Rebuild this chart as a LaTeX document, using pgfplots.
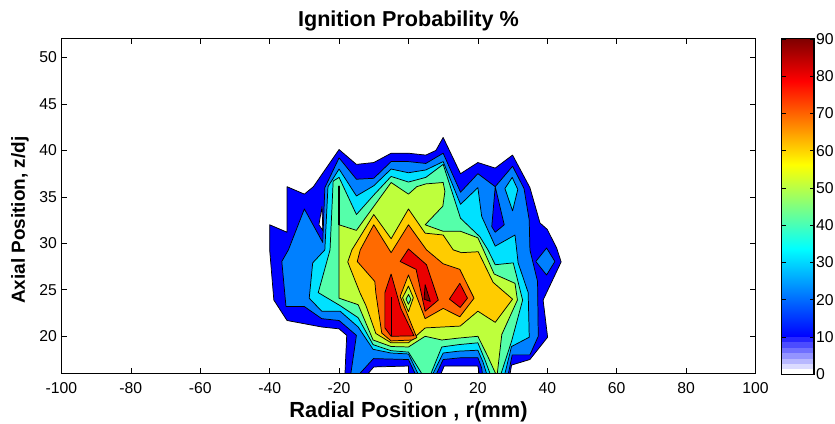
\documentclass[border=0pt]{standalone}
\usepackage{fontspec}
\setmainfont{Liberation Sans}
\usepackage{pgfplots}
\pgfplotsset{compat=1.18}
\definecolor{cA}{RGB}{0,0,255}
\definecolor{cB}{RGB}{0,128,255}
\definecolor{cC}{RGB}{0,225,255}
\definecolor{cD}{RGB}{85,255,170}
\definecolor{cE}{RGB}{190,255,60}
\definecolor{cF}{RGB}{255,204,0}
\definecolor{cG}{RGB}{255,106,0}
\definecolor{cH}{RGB}{235,0,0}
\definecolor{cI}{RGB}{128,0,0}
\pgfplotsset{cont/.style={fill=#1,draw=black,line width=0.55pt,line join=round,mark=none}}
\begin{document}
\begin{tikzpicture}
\useasboundingbox (0,0) rectangle (626.25pt,318pt);
\begin{axis}[
  at={(46.1pt,37.9pt)},anchor=south west,scale only axis,
  width=520.5pt,height=250.9pt,
  xmin=-100,xmax=100,ymin=16,ymax=52,
  xtick={-100,-80,...,100},ytick={20,25,...,50},
  tick align=inside,major tick length=4pt,
  tick style={black,line width=0.5pt},
  axis line style={black,line width=0.8pt},
  axis on top,
  /pgf/number format/assume math mode=true,
  ticklabel style={font=\fontsize{11.8}{13}\selectfont},
  xticklabel style={yshift=-3.2pt},
  title={\bfseries Ignition Probability \%},
  title style={font=\fontsize{16.2}{18}\selectfont,at={(0.5,1)},yshift=-3.5pt},
  xlabel={\bfseries Radial Position , r(mm)},
  xlabel style={font=\fontsize{16.4}{18}\selectfont,yshift=0.5pt},
  ylabel={\bfseries Axial Position, z/dj},
  ylabel style={font=\fontsize{14.2}{16}\selectfont,yshift=1pt,xshift=-10.5pt},
]
% level 10
\addplot[cont=cA] coordinates {(-18.3,16)(-17.8,20.1)(-20,20.8)(-25,21)(-35,21.7)(-38.8,23.9)(-40,29.3)(-40,32)(-35,31.2)(-35,36.1)(-30,35.3)(-27.4,36.1)(-20,40.1)(-15,38.5)(-10,38.7)(-5,39.7)(0,39.7)(5,39.5)(7.9,40)(10,41.4)(15,37.5)(20,38.7)(25,38.1)(30,39.5)(35,36)(37.9,32.2)(40,31.5)(42.7,29.5)(44,28)(38.8,23.9)(40.1,19.9)(35,17.5)(29.7,16.9)(29.3,16)(20.4,16)(20,16.8)(10.3,16.8)(9.4,16)(0,16)(0,16.8)(-10,16.7)(-11.6,16)} -- cycle;
\addplot[fill=white,draw=black,line width=0.55pt] coordinates {(-24.9,34)(-25.8,32)(-24.7,31.4)} -- cycle;
\addplot[cont=cB] coordinates {(39.8,29.5)(36.7,28.05)(39.8,26.6)(42.2,28.05)} -- cycle;
% level 20
\addplot[cont=cB] coordinates {(-16.6,16)(-15,20.1)(-20,21.7)(-25,21.9)(-30,23.2)(-35.3,23.2)(-36.5,28.05)(-34.6,29.3)(-30,33.7)(-24.7,30.1)(-24.1,36)(-20,39.2)(-15,36.9)(-10,37)(-5,38.8)(0,38.8)(5,38.6)(10,39.7)(15,35.5)(20,37.5)(25,36.1)(24,31.8)(25,31.2)(27.6,32)(25,36.1)(30,38.3)(33.3,35.9)(34.8,32.5)(35,29.3)(37.2,25.9)(37.4,20)(35,18)(29.9,18)(28.8,16)(21.3,16)(21.1,16.6)(20,17.7)(15.3,17.7)(10,17.5)(8.1,16)(1.9,16)(0,17.5)(-10.1,17.6)(-14,16)} -- cycle;
\addplot[cont=cC] coordinates {(29.9,37.1)(27.8,35.9)(30,33.5)(31.5,35.8)} -- cycle;
% level 30
\addplot[cont=cC] coordinates {(2.7,16)(0,18.1)(-5,18.2)(-10.2,18.6)(-14.5,21)(-19.7,22.7)(-25,22.7)(-28.6,24.1)(-27.6,27.9)(-24.1,29.3)(-23.2,36.1)(-20,38)(-15,35.1)(-10,36.2)(-5,38)(0,37.6)(5,37.9)(10,38.8)(15,34.2)(20,36)(21.1,32.9)(25,29.7)(30.7,30.9)(31.6,27.9)(34.5,24.7)(34.8,19.9)(29.7,18.9)(27.8,16)(22.5,16)(21.5,17.2)(20,18.5)(14.4,18.4)(10,18.2)(7.1,16)} -- cycle;
% level 40
\addplot[cont=cD] coordinates {(3.8,16)(0,18.3)(-5,18.45)(-10.2,19.1)(-14.5,22)(-19.7,23.3)(-26,24.7)(-22.6,29.3)(-21.7,36.7)(-20,37.1)(-15,33.1)(-10,35.2)(-5,37.2)(0,36.6)(5,37.1)(10,38.5)(15,32.7)(20.6,30.7)(22.9,29.3)(25,27.7)(30.2,27.9)(32.9,23.9)(29.7,19.45)(26.7,16)(23.5,16)(22,17.5)(20,19.3)(14.4,19.1)(9.6,18.85)(6.5,16)} -- cycle;
% level 50
\addplot[cont=cE] coordinates {(-20,24.1)(-20,36.2)(-20,32)(-15,31.4)(-5,36.55)(0,35.3)(2.4,36.1)(5,36.4)(10,36.55)(10.5,35.6)(9.9,34)(4.8,32)(10,31.3)(15,31.3)(20,30.6)(21.6,29.3)(24.7,26.7)(30.7,25.7)(31.4,23.9)(26.9,20.2)(25.6,16)(25.1,16)(22.9,17.8)(20,20)(14.3,19.8)(9.6,19.6)(4.8,20)(0,18.85)(-5,18.9)(-10.2,19.6)(-14.5,23.4)} -- cycle;
\addplot[black,line width=1pt] coordinates {(-20,36.2)(-20,32)};
% level 60
\addplot[cont=cF] coordinates {(-10,33.1)(-5,30.5)(0,33.7)(4.8,31.1)(10,30.9)(12.9,29.3)(15.3,29)(20.1,29.1)(24.4,25.8)(30,24)(25,21.5)(20,22.7)(14.9,21.1)(4.8,20.9)(0,19.3)(-5,19.3)(-9.4,20.3)(-12.25,23.3)(-14,24.7)(-17.5,28)(-16.3,29.3)} -- cycle;
% level 70
\addplot[cont=cG] coordinates {(-10,32)(-5,29)(0,32)(5.2,29.3)(10,27.8)(14.8,27.2)(18.9,24.1)(14.8,22.1)(10,23)(4.8,21.9)(0,26.6)(-2.4,24.3)(2.4,19.85)(1,19.6)(-5,19.5)(-7.7,20.35)(-9.4,24.65)(-9.7,25.9)(-14.75,28.05)(-13.9,29.3)} -- cycle;
% level 80
\addplot[cont=cH] coordinates {(-5,26.7)(-6.8,24.7)(-6.8,20.9)(-5,20)(1.6,20.05)(-2.2,23)} -- cycle;
\addplot[black,line width=0.9pt] coordinates {(-5,24.2)(-5,20)};
\addplot[cont=cH] coordinates {(0,29.4)(-2.4,28.05)(2.2,27.2)(4.8,22.7)(8.6,23.9)(5.2,27.7)} -- cycle;
\addplot[cont=cH] coordinates {(14.8,25.7)(11.8,24)(14.9,23.1)(17,24.1)} -- cycle;
\addplot[cont=cI] coordinates {(4.8,25.55)(4.5,24)(6.3,23.75)} -- cycle;
% central diamond
\addplot[cont=cE] coordinates {(0,25.4)(-1.7,24.15)(0,22.65)(1.4,24.15)} -- cycle;
\addplot[cont=cD] coordinates {(0,24.5)(-0.7,24)(0,23.45)(0.7,24)} -- cycle;
\end{axis}
\begin{axis}[
  at={(586.3pt,37.3pt)},anchor=south west,scale only axis,
  width=24.2pt,height=251.5pt,
  xmin=0,xmax=1,ymin=0,ymax=90,
  xtick=\empty,ytick={0,10,...,90},
  yticklabel pos=right,
  tick align=inside,major tick length=3pt,
  tick style={black,line width=0.6pt},
  axis line style={black,line width=0.8pt},
  axis on top,
  /pgf/number format/assume math mode=true,
  ticklabel style={font=\fontsize{11.8}{13}\selectfont},
  yticklabel style={xshift=-2pt},
  colormap={barmap}{rgb255(40)=(0,0,255); rgb255(135)=(0,255,255); rgb255(225)=(255,255,0); rgb255(315)=(255,0,0); rgb255(360)=(128,0,0)},
  point meta min=10,point meta max=90,
]
\addplot[surf,shader=interp,mesh/rows=2,mesh/cols=2,point meta=y] coordinates {(0,10)(1,10)(0,90)(1,90)};
\addplot[fill=white,draw=none] coordinates {(0,0)(1,0)(1,1.4)(0,1.4)} -- cycle;
\addplot[fill=cA!14!white,draw=none] coordinates {(0,1.4)(1,1.4)(1,2.8)(0,2.8)} -- cycle;
\addplot[fill=cA!28!white,draw=none] coordinates {(0,2.8)(1,2.8)(1,4.2)(0,4.2)} -- cycle;
\addplot[fill=cA!42!white,draw=none] coordinates {(0,4.2)(1,4.2)(1,5.6)(0,5.6)} -- cycle;
\addplot[fill=cA!56!white,draw=none] coordinates {(0,5.6)(1,5.6)(1,7)(0,7)} -- cycle;
\addplot[fill=cA!70!white,draw=none] coordinates {(0,7)(1,7)(1,8.6)(0,8.6)} -- cycle;
\addplot[fill=cA!85!white,draw=none] coordinates {(0,8.6)(1,8.6)(1,10)(0,10)} -- cycle;
\end{axis}
\end{tikzpicture}
\end{document}
